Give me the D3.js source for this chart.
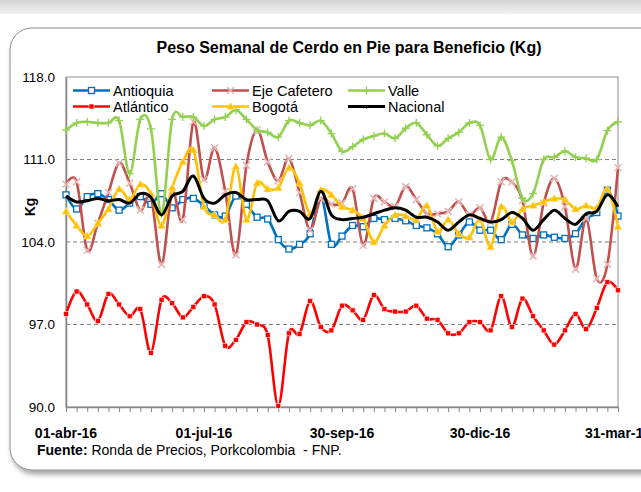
<!DOCTYPE html>
<html>
<head>
<meta charset="utf-8">
<script src="https://cdn.jsdelivr.net/npm/d3@7"></script>
<style>
  body { margin: 0; background: #fff; }
  text { font-family: "Liberation Sans", Arial, sans-serif; }
</style>
</head>
<body>
<svg id="chart" width="641" height="492"></svg>
<script>
// weekly values, 01-abr-16 .. 31-mar-17 (53 weeks)
const antioquia = [108.0,106.8,107.85,108.1,107.6,106.7,107.3,107.85,107.2,108.1,106.9,107.6,107.7,107.1,106.3,106.2,107.9,107.2,106.1,105.95,104.2,103.4,103.8,104.7,108.0,103.8,104.5,105.4,105.3,106.0,105.9,106.0,105.8,105.4,105.2,104.7,103.6,104.6,105.7,105.0,105.0,104.2,105.5,104.6,104.3,104.6,104.4,104.3,104.7,106.0,106.5,108.4,106.2];
const ejeCafetero = [108.9,109.1,103.3,105.6,108.2,110.7,109.0,106.7,107.8,102.1,108.2,105.9,114.2,109.3,112.0,108.3,102.9,110.5,113.5,110.8,109.2,111.1,108.2,105.0,107.7,107.2,107.3,108.5,103.7,107.7,107.4,107.0,108.7,107.6,106.4,106.4,106.6,107.4,106.3,106.9,105.7,109.1,109.1,107.5,102.8,107.3,109.4,107.0,101.7,106.0,100.9,102.1,110.3];
const valle = [113.5,114.1,114.2,114.1,114.1,114.3,109.8,114.4,113.6,106.4,114.4,114.6,114.6,113.85,114.4,114.6,115.2,114.4,113.5,113.3,112.9,114.3,114.1,113.9,114.3,113.2,111.7,112.1,112.7,113.0,113.2,112.8,113.65,114.1,113.1,112.15,112.8,113.3,114.1,113.9,111.0,112.9,110.9,107.7,108.1,111.0,111.2,111.7,111.2,111.1,111.0,113.45,114.2];
const atlantico = [97.9,99.8,98.7,97.3,99.6,98.7,97.7,98.3,94.6,99.1,98.8,97.6,98.5,99.4,98.7,95.2,95.7,97.2,97.0,96.1,90.1,96.25,96.2,99.0,96.8,96.5,98.6,98.2,97.4,99.5,98.3,98.1,98.1,98.6,97.5,97.4,96.25,96.25,97.2,97.2,96.5,99.4,96.8,99.2,97.7,96.5,95.3,96.5,97.9,96.6,98.4,100.6,99.9];
const bogota = [106.6,105.4,104.5,105.6,106.8,108.5,107.6,108.9,108.1,105.4,108.6,110.8,111.8,107.0,106.3,105.9,110.4,105.9,109.0,108.5,108.6,110.3,109.0,106.4,108.4,108.0,107.0,106.7,106.0,104.0,105.4,106.3,106.2,105.9,107.1,104.9,105.9,104.7,104.4,105.9,103.6,107.0,105.7,106.8,107.1,107.4,107.7,107.6,106.8,107.1,106.9,108.5,105.3];
const nacional = [107.9,107.4,107.5,107.7,107.5,107.6,107.3,108.1,107.8,106.3,107.9,108.3,109.6,107.7,107.3,108.0,108.2,107.6,107.6,107.5,105.8,106.6,106.6,106.0,108.3,106.3,105.9,106.0,106.1,106.4,106.7,106.9,106.7,106.1,106.1,105.7,105.0,105.7,106.3,106.0,105.7,105.9,106.5,106.0,105.0,105.9,106.7,106.0,105.5,106.4,106.6,108.0,107.0];

const yTicks = [90, 97, 104, 111, 118];
const tickLabels = ["01-abr-16", "01-jul-16", "30-sep-16", "30-dic-16", "31-mar-17"];
const tickWeeks = [0, 13, 26, 39, 52];

const series = [
  { name: "Antioquia", values: antioquia, color: "#0070C0", marker: "square" },
  { name: "Eje Cafetero", values: ejeCafetero, color: "#C0504D", marker: "x" },
  { name: "Valle", values: valle, color: "#92D050", marker: "plus" },
  { name: "Atlántico", values: atlantico, color: "#FF0000", marker: "dot" },
  { name: "Bogotá", values: bogota, color: "#FFC000", marker: "triangle" },
  { name: "Nacional", values: nacional, color: "#000000", marker: "none" }
];

const svg = d3.select("#chart");

// background strip + rounded frame
const defs = svg.append("defs");
const grad = defs.append("linearGradient").attr("id", "topband").attr("x1", 0).attr("y1", 0).attr("x2", 0).attr("y2", 1);
grad.append("stop").attr("offset", "0%").attr("stop-color", "#d4d4d4");
grad.append("stop").attr("offset", "100%").attr("stop-color", "#f2f2f2");
svg.append("rect").attr("x", 0).attr("y", 0).attr("width", 641).attr("height", 14).attr("fill", "url(#topband)");

const shadow = defs.append("filter").attr("id", "shadow").attr("x", "-5%").attr("y", "-5%").attr("width", "115%").attr("height", "115%");
shadow.append("feDropShadow").attr("dx", 2).attr("dy", 4).attr("stdDeviation", 2.5).attr("flood-color", "#000").attr("flood-opacity", 0.35);

svg.append("rect")
  .attr("x", 10).attr("y", 28).attr("width", 680).attr("height", 442)
  .attr("rx", 22).attr("ry", 22)
  .attr("fill", "#fff").attr("stroke", "#8c8c8c").attr("stroke-width", 1)
  .attr("filter", "url(#shadow)");

const x = d3.scaleLinear().domain([0, 52]).range([66, 618]);
const y = d3.scaleLinear().domain([90, 118]).range([407, 77]);

// gridlines
svg.append("g")
  .selectAll("line")
  .data(yTicks.slice(1, -1))
  .join("line")
  .attr("x1", x(0)).attr("x2", x(52))
  .attr("y1", d => y(d)).attr("y2", d => y(d))
  .attr("stroke", "#7f7f7f").attr("stroke-width", 1).attr("stroke-dasharray", "4,3");

// plot border
svg.append("rect")
  .attr("x", x(0)).attr("y", y(118)).attr("width", x(52) - x(0)).attr("height", y(90) - y(118))
  .attr("fill", "none").attr("stroke", "#8f8f8f").attr("stroke-width", 1);

// y axis
const yAxis = svg.append("g")
  .attr("transform", `translate(${x(0)},0)`)
  .call(d3.axisLeft(y).tickValues(yTicks).tickFormat(d3.format(".1f")).tickSize(0).tickPadding(11));
yAxis.select(".domain").attr("stroke", "#868686").attr("stroke-width", 1.5);
yAxis.selectAll("text").attr("font-size", 13.5).attr("fill", "#000").attr("font-family", "Liberation Sans, Arial, sans-serif");

// x axis with weekly ticks
const xAxis = svg.append("g")
  .attr("transform", `translate(0,${y(90)})`)
  .call(d3.axisBottom(x).tickValues(d3.range(antioquia.length)).tickFormat("").tickSize(5).tickSizeOuter(0));
xAxis.select(".domain").attr("stroke", "#868686").attr("stroke-width", 1.5);
xAxis.selectAll(".tick line").attr("stroke", "#868686");

svg.append("g")
  .selectAll("text")
  .data(tickWeeks)
  .join("text")
  .attr("x", d => x(d)).attr("y", 438)
  .attr("text-anchor", "middle")
  .attr("font-size", 14).attr("font-weight", "bold")
  .text((d, i) => tickLabels[i]);

// axis title
svg.append("text")
  .attr("transform", "translate(35,207) rotate(-90)")
  .attr("text-anchor", "middle")
  .attr("font-size", 14).attr("font-weight", "bold")
  .text("Kg");

// title
svg.append("text")
  .attr("x", 349).attr("y", 53)
  .attr("text-anchor", "middle")
  .attr("font-size", 16).attr("font-weight", "bold")
  .text("Peso Semanal de Cerdo en Pie para Beneficio (Kg)");

// source
const src = svg.append("text").attr("x", 37).attr("y", 455).attr("font-size", 14).style("white-space", "pre");
src.append("tspan").attr("font-weight", "bold").text("Fuente: ");
src.append("tspan").text("Ronda de Precios, Porkcolombia  - FNP.");

// markers
function drawMarker(g, type, color, cx, cy) {
  if (type === "square") {
    g.append("rect").attr("x", cx - 3).attr("y", cy - 3).attr("width", 6).attr("height", 6)
      .attr("fill", "#fff").attr("stroke", color).attr("stroke-width", 1.3);
  } else if (type === "x") {
    g.append("path").attr("d", `M${cx - 3.5},${cy - 3.5}L${cx + 3.5},${cy + 3.5}M${cx - 3.5},${cy + 3.5}L${cx + 3.5},${cy - 3.5}`)
      .attr("stroke", "#E6B9B8").attr("stroke-width", 1.6);
  } else if (type === "plus") {
    g.append("path").attr("d", `M${cx - 4},${cy}L${cx + 4},${cy}M${cx},${cy - 4}L${cx},${cy + 4}`)
      .attr("stroke", color).attr("stroke-width", 1.3);
  } else if (type === "dot") {
    g.append("rect").attr("x", cx - 2.5).attr("y", cy - 2.5).attr("width", 5).attr("height", 5)
      .attr("fill", color).attr("stroke", "#fff").attr("stroke-width", 0.6);
  } else if (type === "triangle") {
    g.append("path").attr("d", `M${cx},${cy - 4}L${cx + 4},${cy + 3}L${cx - 4},${cy + 3}Z`)
      .attr("fill", color).attr("stroke", "#FFE699").attr("stroke-width", 0.6);
  } else if (type === "nac") {
    g.append("path").attr("d", `M${cx - 2.5},${cy - 1}L${cx + 2.5},${cy - 1}L${cx},${cy + 2.5}Z`).attr("fill", color);
  }
}

const line = d3.line()
  .x((d, i) => x(i))
  .y(d => y(d))
  .curve(d3.curveCardinal.tension(0));

series.forEach(s => {
  const g = svg.append("g");
  g.append("path")
    .datum(s.values)
    .attr("d", line)
    .attr("fill", "none")
    .attr("stroke", s.color)
    .attr("stroke-width", s.name === "Nacional" ? 3 : 2.6)
    .attr("stroke-linejoin", "round");
  if (s.marker !== "none") {
    s.values.forEach((v, i) => drawMarker(g, s.marker, s.color, x(i), y(v)));
  }
});

// legend
const legendCols = [73, 212, 348];
const legendRows = [90.5, 106.5];
series.forEach((s, i) => {
  const lx = legendCols[i % 3];
  const ly = legendRows[Math.floor(i / 3)];
  const g = svg.append("g");
  g.append("line").attr("x1", lx).attr("x2", lx + 37).attr("y1", ly).attr("y2", ly)
    .attr("stroke", s.color).attr("stroke-width", s.name === "Nacional" ? 3 : 2.6);
  drawMarker(g, s.marker === "none" ? "nac" : s.marker, s.color, lx + 18.5, ly);
  g.append("text").attr("x", lx + 40).attr("y", ly + 5).attr("font-size", 14.5).text(s.name);
});
</script>
</body>
</html>
